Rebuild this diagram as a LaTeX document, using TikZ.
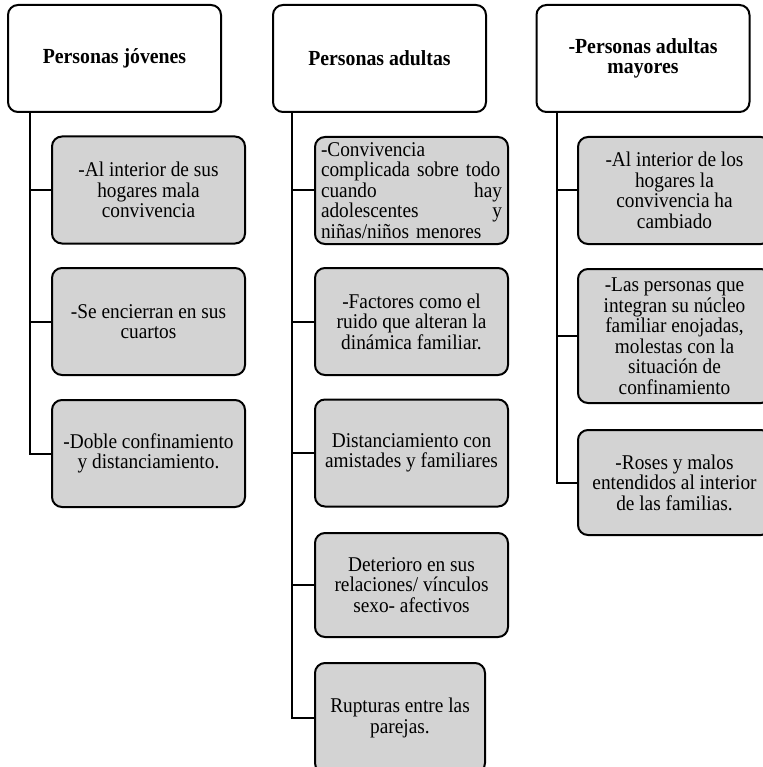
\documentclass[tikz,border=0pt]{standalone}
\usepackage{fontspec}
\setmainfont[FakeStretch=0.92]{Liberation Serif}
\usetikzlibrary{positioning}
\definecolor{grisclaro}{RGB}{211,211,211}

\begin{document}
\begin{tikzpicture}[x=1pt,y=-1pt,line width=2pt,
  titulo/.style={draw,rounded corners=10pt,minimum width=213pt,minimum height=107pt,align=center,
    font=\fontsize{21.5}{20.5}\selectfont\bfseries},
  caja/.style={draw,fill=grisclaro,rounded corners=10pt,minimum width=193pt,minimum height=107pt,align=center,
    font=\fontsize{21}{20.5}\selectfont}]
  \useasboundingbox (0,0) rectangle (762,767);
  % encabezados
  \node[titulo] (jov) at (114.5,58.5) {Personas jóvenes};
  \node[titulo] (adu) at (379.5,58.5) {Personas adultas};
  \node[titulo] (may) at (643,58.5) {-Personas adultas\\mayores};
  % personas jovenes
  \node[caja] (j1) at (148.5,190) {-Al interior de sus\\hogares mala\\convivencia};
  \node[caja] (j2) at (148.5,321.5) {-Se encierran en sus\\cuartos};
  \node[caja] (j3) at (148.5,453.5) {-Doble confinamiento\\y distanciamiento.};
  % personas adultas
  \node[caja,text width=181pt,align=left] (a1) at (411.5,190.5)
    {-Convivencia\\complicada sobre todo\\cuando\hfill hay\\adolescentes\hfill y\\niñas/niños menores};
  \node[caja] (a2) at (411.5,321.5) {-Factores como el\\ruido que alteran la\\dinámica familiar.};
  \node[caja] (a3) at (411.5,453) {Distanciamiento con\\amistades y familiares};
  \node[caja,minimum height=104pt] (a4) at (411.5,585) {Deterioro en sus\\relaciones/ vínculos\\sexo- afectivos};
  \node[caja,minimum width=170pt,minimum height=110pt] (a5) at (400,718) {Rupturas entre las\\parejas.};
  % personas adultas mayores
  \node[caja] (m1) at (674.5,190.5) {-Al interior de los\\hogares la\\convivencia ha\\cambiado};
  \node[caja,minimum height=134pt] (m2) at (674.5,336)
    {-Las personas que\\integran su núcleo\\familiar enojadas,\\molestas con la\\situación de\\confinamiento};
  \node[caja,minimum height=105pt] (m3) at (674.5,482.5) {-Roses y malos\\entendidos al interior\\de las familias.};
  % conectores
  \foreach \n in {j1,j2,j3}
    \draw (jov.south west) ++(23,0) |- (\n.west);
  \foreach \n in {a1,a2,a3,a4,a5}
    \draw (adu.south west) ++(20,0) |- (\n.west);
  \foreach \n in {m1,m2,m3}
    \draw (may.south west) ++(21,0) |- (\n.west);
\end{tikzpicture}
\end{document}
